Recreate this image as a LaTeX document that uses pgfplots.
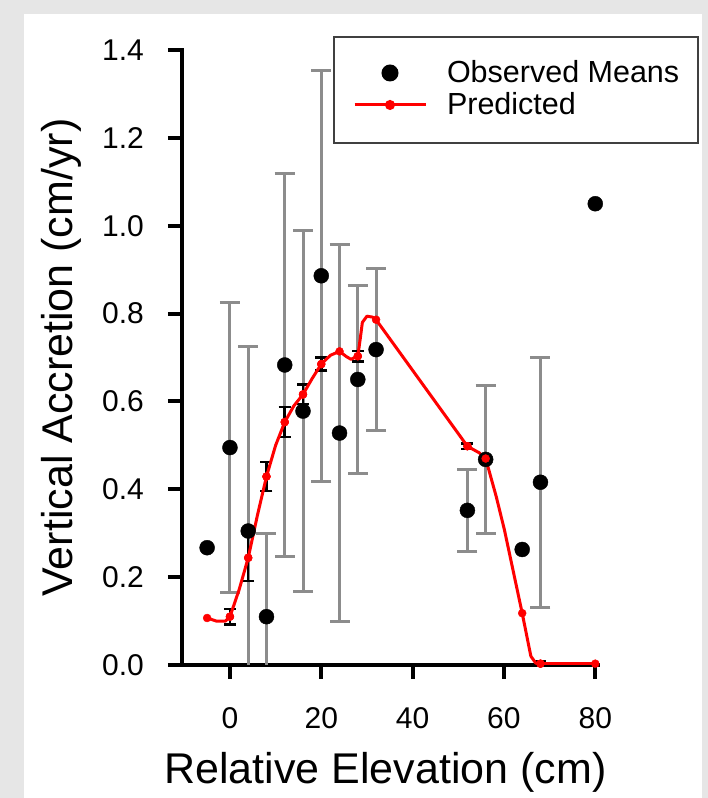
\documentclass[border=0pt]{standalone}
\usepackage{fontspec}
\setmainfont{Liberation Sans}
\usepackage{pgfplots}
\usepackage{pgfplotstable}
\pgfplotsset{compat=1.18}
\definecolor{framegray}{HTML}{E6E6E6}
\definecolor{errgray}{HTML}{8C8C8C}
\definecolor{predred}{HTML}{FF0000}
\definecolor{legline}{HTML}{404040}

% observed means, +/- error
\pgfplotstableread{
x y err
-5 0.267 0
0 0.495 0.33
4 0.305 0.42
8 0.110 0.19
12 0.683 0.435
16 0.578 0.41
20 0.886 0.468
24 0.528 0.43
28 0.650 0.215
32 0.718 0.185
52 0.352 0.093
56 0.468 0.169
64 0.263 0
68 0.416 0.285
80 1.050 0
}\observed

% predicted curve (mk = drawn marker)
\pgfplotstableread{
x y mk err
-5 0.107 1 0
-3 0.100 0 0
-1 0.100 0 0
0 0.110 1 0.018
2 0.171 0 0
4 0.244 1 0.053
6 0.340 0 0
8 0.429 1 0.033
10 0.500 0 0
12 0.553 1 0.034
14 0.590 0 0
16 0.616 1 0.022
18 0.652 0 0
20 0.685 1 0.015
22 0.705 0 0
24 0.714 1 0
25.5 0.702 0 0
26.5 0.696 0 0
28 0.703 1 0.012
28.5 0.740 0 0
29 0.780 0 0
30 0.794 0 0
31.2 0.792 0 0
32 0.786 1 0
52 0.498 1 0.006
54.6 0.483 0 0
56 0.470 1 0
58.3 0.384 0 0
60.1 0.308 0 0
64 0.118 1 0
65.9 0.020 0 0
67 0.004 0 0
68 0.003 1 0.006
80 0.003 1 0
}\predicted

\begin{document}
\begin{tikzpicture}
\fill[framegray] (0pt,0pt) rectangle (708pt,798pt);
\fill[white] (24pt,0pt) rectangle (702pt,784pt);
\path[use as bounding box] (0pt,0pt) rectangle (708pt,798pt);
\begin{axis}[
    at={(182pt,133pt)}, anchor=south west,
    scale only axis, width=416pt, height=615pt,
    xmin=-10.5, xmax=80.6, ymin=0, ymax=1.4,
    axis x line*=bottom, axis y line*=left,
    axis line style={line width=4.5pt, black, line cap=rect},
    xtick={0,20,40,60,80},
    ytick={0,0.2,0.4,0.6,0.8,1.0,1.2,1.4},
    tick align=outside, major tick length=14pt,
    tick style={line width=4pt, black},
    /pgf/number format/assume math mode=true,
    yticklabel={\pgfmathprintnumber[fixed, fixed zerofill, precision=1]{\tick}},
    ticklabel style={font=\fontsize{30}{36}\selectfont, inner sep=0pt},
    yticklabel style={anchor=east, xshift=-24pt},
    xticklabel style={anchor=north, yshift=-28pt},
    xlabel={Relative Elevation (cm)},
    ylabel={Vertical Accretion (cm/yr)},
    label style={font=\fontsize{43}{50}\selectfont, inner sep=0pt},
    xlabel style={at={(axis description cs:0.489,-0.1919)}, anchor=base},
    ylabel style={at={(axis description cs:-0.2644,0.5)}, anchor=base},
    legend cell align=left,
    legend style={at={(rel axis cs:0.363,1.0228)}, anchor=north west,
        draw=legline, line width=2pt, fill=white,
        inner xsep=19pt, inner ysep=23pt, row sep=4pt, column sep=20pt,
        font=\fontsize{30.5}{36}\selectfont,
        nodes={inner sep=0pt, text height=23pt, text depth=5pt}},
]
% observed means with gray error bars
\addplot[only marks, mark=*, mark size=7.5pt, black, forget plot,
    restrict expr to domain={\thisrow{err}}{0.001:10},
    error bars/.cd, y dir=both, y explicit,
    error bar style={draw=errgray, line width=3pt},
    error mark=|, error mark options={draw=errgray, mark size=10pt, line width=3pt}]
    table[x=x, y=y, y error=err] {\observed};
% observed means without error bars
\addplot[only marks, mark=*, mark size=7.5pt, black, forget plot,
    restrict expr to domain={\thisrow{err}}{-1:0.0005}]
    table[x=x, y=y] {\observed};
% prediction with black error bars
\addplot[only marks, mark=*, mark size=4pt, predred, forget plot,
    restrict expr to domain={\thisrow{err}}{0.0001:10},
    error bars/.cd, y dir=both, y explicit,
    error bar style={draw=black, line width=2.5pt},
    error mark=|, error mark options={draw=black, mark size=6pt, line width=2.5pt}]
    table[x=x, y=y, y error=err] {\predicted};
% predicted curve
\addplot[predred, line width=3pt, mark=none, line join=round, forget plot]
    table[x=x, y=y] {\predicted};
\addplot[only marks, mark=*, mark size=4pt, predred, forget plot,
    restrict expr to domain={\thisrow{mk}}{0.5:1.5}]
    table[x=x, y=y] {\predicted};

\addlegendimage{legend image code/.code={
    \path[draw=none] (0pt,1pt) -- (71pt,1pt);
    \fill[black] (35.5pt,1pt) circle (7.5pt);}}
\addlegendentry{Observed Means}
\addlegendimage{legend image code/.code={
    \draw[predred, line width=3pt] (0pt,1pt) -- (71pt,1pt);
    \fill[predred] (35.5pt,1pt) circle (4pt);}}
\addlegendentry{Predicted}
\end{axis}
\end{tikzpicture}
\end{document}
